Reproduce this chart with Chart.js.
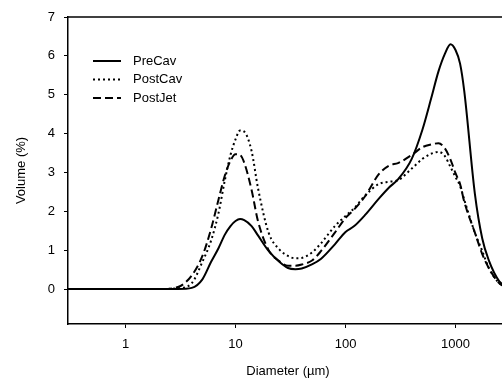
<!DOCTYPE html>
<html>
<head>
<meta charset="utf-8">
<script src="https://cdn.jsdelivr.net/npm/chart.js@4"></script>
<style>
  html, body { margin: 0; padding: 0; background: #fff; overflow: hidden; }
  #wrap { width: 502px; height: 383px; overflow: hidden; }
</style>
</head>
<body>
<div id="wrap"><canvas id="myChart" width="510" height="383"></canvas></div>
<script>
// diameters (µm) shared by all three curves
const diameters = [0.3, 1, 2, 3, 4, 5, 6, 7, 8, 9, 10, 11, 12, 14, 16, 20, 25, 30, 35, 40, 50, 60, 80, 100, 120, 150, 200, 250, 300, 400, 500, 600, 700, 800, 900, 1000, 1100, 1200, 1500, 1750, 2000, 2500, 3000];

const preCav = [0, 0, 0, 0, 0.03, 0.25, 0.70, 1.05, 1.40, 1.62, 1.75, 1.80, 1.77, 1.62, 1.38, 0.98, 0.70, 0.54, 0.51, 0.53, 0.64, 0.78, 1.15, 1.47, 1.62, 1.90, 2.32, 2.62, 2.82, 3.35, 4.10, 4.90, 5.60, 6.05, 6.30, 6.15, 5.80, 5.10, 2.45, 1.30, 0.75, 0.20, 0.05];
const postCav = [0, 0, 0, 0.02, 0.15, 0.70, 1.25, 1.95, 2.80, 3.45, 3.85, 4.08, 4.05, 3.55, 2.60, 1.45, 1.02, 0.85, 0.79, 0.80, 0.95, 1.18, 1.62, 1.88, 2.08, 2.40, 2.70, 2.76, 2.80, 3.10, 3.35, 3.48, 3.53, 3.42, 3.14, 2.88, 2.65, 2.30, 1.45, 0.98, 0.55, 0.15, 0.03];
const postJet = [0, 0, 0, 0.05, 0.35, 0.85, 1.55, 2.30, 2.92, 3.30, 3.47, 3.45, 3.25, 2.55, 1.75, 1.00, 0.72, 0.60, 0.60, 0.63, 0.74, 0.98, 1.45, 1.83, 2.05, 2.38, 2.95, 3.18, 3.24, 3.45, 3.65, 3.72, 3.75, 3.62, 3.33, 2.98, 2.70, 2.25, 1.45, 0.90, 0.55, 0.15, 0.03];

const seriesNames = ['PreCav', 'PostCav', 'PostJet'];
const xTicks = [1, 10, 100, 1000];
const yTicks = [0, 1, 2, 3, 4, 5, 6, 7];

const FONT = 'Arial, "Liberation Sans", sans-serif';

function pts(vals) {
    return diameters.map((d, i) => ({ x: d, y: vals[i] }));
}

// frame on top + hand-drawn legend with line styles
const framePlugin = {
    id: 'frame',
    afterDraw(chart) {
        const ctx = chart.ctx;
        const a = chart.chartArea;
        ctx.save();
        ctx.strokeStyle = '#000';
        ctx.lineWidth = 1.5;
        ctx.beginPath();
        ctx.moveTo(a.left, a.top);
        ctx.lineTo(a.right + 5, a.top);
        ctx.stroke();

        ctx.font = '13px ' + FONT;
        ctx.textBaseline = 'middle';
        ctx.fillStyle = '#000';
        chart.data.datasets.forEach((ds, i) => {
            const y = 61 + i * 18.5;
            ctx.lineWidth = ds.borderWidth;
            ctx.setLineDash(ds.borderDash || []);
            ctx.beginPath();
            ctx.moveTo(93, y);
            ctx.lineTo(121, y);
            ctx.stroke();
            ctx.setLineDash([]);
            ctx.fillText(ds.label, 133, y);
        });
        ctx.restore();
    }
};

const ctx = document.getElementById('myChart').getContext('2d');
new Chart(ctx, {
    type: 'line',
    data: {
        datasets: [
            { label: seriesNames[0], data: pts(preCav), borderColor: '#000', borderWidth: 2 },
            { label: seriesNames[1], data: pts(postCav), borderColor: '#000', borderWidth: 2, borderDash: [2, 3] },
            { label: seriesNames[2], data: pts(postJet), borderColor: '#000', borderWidth: 2, borderDash: [8, 4] }
        ]
    },
    options: {
        responsive: false,
        animation: false,
        layout: { padding: { top: 17, right: 2, left: 0, bottom: 0 } },
        elements: {
            point: { radius: 0 },
            line: { cubicInterpolationMode: 'monotone', fill: false }
        },
        plugins: { legend: { display: false }, tooltip: { enabled: false } },
        scales: {
            x: {
                type: 'logarithmic',
                min: 0.3,
                max: 3000,
                afterFit: s => { s.height = 59; },
                afterBuildTicks: s => { s.ticks = xTicks.map(v => ({ value: v })); },
                ticks: {
                    color: '#000',
                    font: { family: FONT, size: 13 },
                    padding: 9,
                    maxRotation: 0,
                    callback: v => String(v)
                },
                grid: { drawOnChartArea: false, drawTicks: true, tickLength: 4, color: '#000', lineWidth: 1 },
                border: { color: '#000', width: 1.5 },
                title: { display: true, text: 'Diameter (µm)', color: '#000', font: { family: FONT, size: 13 }, padding: { top: 0, bottom: 4 } }
            },
            y: {
                min: -0.9,
                max: 7,
                afterFit: s => { s.width = 68; },
                afterBuildTicks: s => { s.ticks = yTicks.map(v => ({ value: v })); },
                ticks: {
                    color: '#000',
                    font: { family: FONT, size: 13 },
                    padding: 9
                },
                grid: { drawOnChartArea: false, drawTicks: true, tickLength: 4, color: '#000', lineWidth: 1 },
                border: { color: '#000', width: 1.5 },
                title: { display: true, text: 'Volume (%)', color: '#000', font: { family: FONT, size: 13 }, padding: { top: 14, bottom: 0 } }
            }
        }
    },
    plugins: [framePlugin]
});
</script>
</body>
</html>
